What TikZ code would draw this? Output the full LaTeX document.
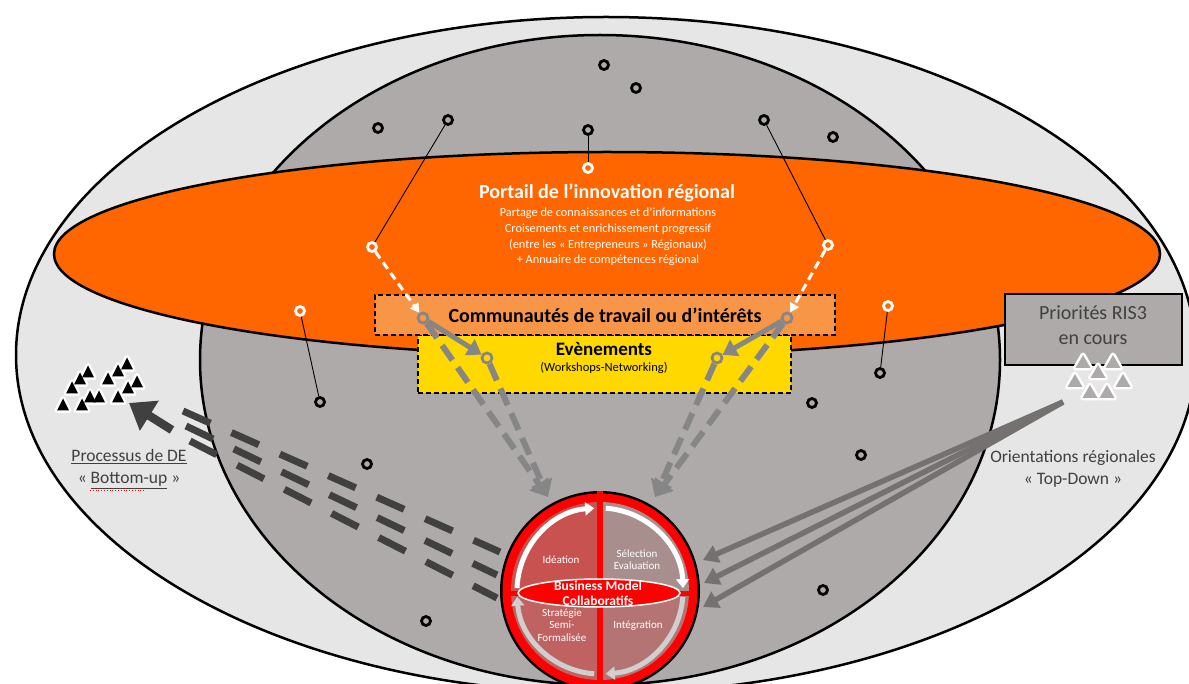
\documentclass[tikz,border=0pt]{standalone}
\usepackage{fontspec}
\setmainfont{Carlito}
\usetikzlibrary{arrows.meta}
\definecolor{outerg}{HTML}{E7E6E6}
\definecolor{innerg}{HTML}{AEAAAA}
\definecolor{orangeP}{HTML}{FF6600}
\definecolor{commu}{HTML}{F79646}
\definecolor{evt}{HTML}{FFD800}
\definecolor{dkg}{HTML}{404040}
\definecolor{arrowg}{HTML}{767171}
\definecolor{dashg}{HTML}{868686}
\definecolor{qtl}{HTML}{C85250}
\definecolor{qtr}{HTML}{A98E8E}
\definecolor{qbr}{HTML}{B47474}
\definecolor{qbl}{HTML}{C06262}
\definecolor{arcg}{HTML}{CFCFCF}
\begin{document}
\begin{tikzpicture}[x=1pt,y=-1pt,
  bring/.style={circle,draw=black,line width=2.8pt,fill=innerg,minimum size=9pt,inner sep=0pt},
  wring/.style={circle,draw=white,line width=2.8pt,fill=orangeP,minimum size=9pt,inner sep=0pt},
  gring/.style={circle,draw=dashg,line width=2.8pt,minimum size=10pt,inner sep=0pt},
  thinl/.style={black,line width=0.9pt},
  whitedash/.style={white,line width=3pt,dash pattern=on 8pt off 5pt,-{Triangle[length=9pt,width=10pt]}},
  graysolid/.style={dashg,line width=5pt,-{Triangle[length=14pt,width=18pt]}},
  graydash/.style={dashg,line width=6pt,dash pattern=on 18pt off 9pt,-{Triangle[length=16pt,width=22pt]}},
  tdarrow/.style={arrowg,line width=5.5pt,-{Triangle[length=15pt,width=18pt]}},
  budash/.style={dkg,line width=7pt,dash pattern=on 30pt off 23pt},
  dbox/.style={draw=black,line width=1.5pt,dash pattern=on 5pt off 3pt,inner sep=0pt},
  lbl/.style={text=dkg,font=\fontsize{17.5}{22}\selectfont,align=center},
  qlbl/.style={text=white,font=\fontsize{11}{12.5}\selectfont,align=center},
  ltri/.style={white,line width=5pt,line join=round},
]
\useasboundingbox (0,0) rectangle (1189,684);
\clip (0,0) rectangle (1189,684);
\fill[white] (0,0) rectangle (1189,684);

% ellipses
\draw[line width=2.5pt,fill=outerg] (606,355) ellipse [x radius=590, y radius=338];
\draw[line width=2.5pt,fill=innerg] (600,360) ellipse [x radius=400, y radius=325];
\draw[line width=2.5pt,fill=orangeP] (607,254) ellipse [x radius=553, y radius=102];

% boxes
\node[dbox,fill=evt,minimum width=373pt,minimum height=58pt] (evtbox) at (604.5,364) {};
\node[dbox,fill=commu,minimum width=460pt,minimum height=40pt,font=\bfseries\fontsize{20}{24}\selectfont] (comm) at (605,315) {Communautés de travail ou d’intérêts};
\node[font=\bfseries\fontsize{19}{22}\selectfont] (evttitle) at (604,349) {Evènements};
\node[font=\fontsize{12.5}{15}\selectfont] (evtsub) at (604,368) {(Workshops-Networking)};

% portal text
\node[text=white,font=\bfseries\fontsize{20}{24}\selectfont] (portal) at (607,193) {Portail de l’innovation régional};
\node[text=white,font=\fontsize{12.3}{15.7}\selectfont,align=center] (portalsub) at (608,237) {Partage de connaissances et d’informations\\Croisements et enrichissement progressif\\(entre les « Entrepreneurs » Régionaux)\\+ Annuaire de compétences régional};

% rings
\node[bring] (b1) at (604,65) {};
\node[bring] (b2) at (636,88) {};
\node[bring] (b3) at (378,128) {};
\node[bring] (b4) at (448,120) {};
\node[bring] (b5) at (588,130) {};
\node[bring] (b6) at (764,120) {};
\node[bring] (b7) at (833,137) {};
\node[bring] (b8) at (320,402) {};
\node[bring] (b9) at (880,373) {};
\node[bring] (b10) at (367,464) {};
\node[bring] (b11) at (812,403) {};
\node[bring] (b12) at (861,455) {};
\node[bring] (b13) at (426,621) {};
\node[bring] (b14) at (823,590) {};
\node[wring] (w1) at (588,168) {};
\node[wring] (w2) at (372,247) {};
\node[wring] (w3) at (828,245) {};
\node[wring] (w4) at (300,311) {};
\node[wring] (w5) at (888,306) {};
\node[gring,fill=commu] (g1) at (423,318) {};
\node[gring,fill=evt] (g2) at (487,358) {};
\node[gring,fill=commu] (g3) at (787,318) {};
\node[gring,fill=evt] (g4) at (717,358) {};

% thin lines
\draw[thinl] (b4) -- (w2);
\draw[thinl] (b5) -- (w1);
\draw[thinl] (b6) -- (w3);
\draw[thinl] (w4) -- (b8);
\draw[thinl] (w5) -- (b9);

% bottom-up dashes
\coordinate (bu1s) at (183,411); \coordinate (bu1e) at (500,552);
\coordinate (bu2s) at (186,426); \coordinate (bu2e) at (497,575);
\coordinate (bu3s) at (190,441); \coordinate (bu3e) at (497,598);
\draw[budash] (bu1s) -- (bu1e);
\draw[budash] (bu2s) -- (bu2e);
\draw[budash] (bu3s) -- (bu3e);
\coordinate (bua) at (172,430); \coordinate (but) at (129,403);
\draw[dkg,line width=8.5pt,-{Triangle[length=24pt,width=34pt]}] (bua) -- (but);

% left triangles
\foreach \x/\y in {63/405,82/405,72/388,80/379,88/372,90/397,99/397,108/379,118/371,127/364,118/397,128/388,137/382}
  \draw[ltri] ({\x-6},{\y+5.5}) -- (\x,{\y-6.5}) -- ({\x+6},{\y+5.5}) -- cycle;
\foreach \x/\y in {63/405,82/405,72/388,80/379,88/372,90/397,99/397,108/379,118/371,127/364,118/397,128/388,137/382}
  \fill[black] ({\x-6},{\y+5.5}) -- (\x,{\y-6.5}) -- ({\x+6},{\y+5.5}) -- cycle;

% central circle
\coordinate (cc) at (600,591);
\fill[black] (cc) circle[radius=100];
\fill[red] (cc) circle[radius=97.5];
\fill[qtl] (cc) -- ++(180:89) arc[start angle=180,end angle=270,radius=89] -- cycle;
\fill[qtr] (cc) -- ++(270:89) arc[start angle=270,end angle=360,radius=89] -- cycle;
\fill[qbr] (cc) -- ++(0:89) arc[start angle=0,end angle=90,radius=89] -- cycle;
\fill[qbl] (cc) -- ++(90:89) arc[start angle=90,end angle=180,radius=89] -- cycle;
\draw[red,line width=6pt] (600,491) -- (600,691);
\draw[red,line width=5pt] (511,593) -- (689,593);
\draw[white,line width=5pt,-{Triangle[length=9pt,width=13pt]}] (cc) ++(182:83) arc[start angle=182,end angle=266,radius=83];
\draw[white,line width=5pt,-{Triangle[length=9pt,width=13pt]}] (cc) ++(274:83) arc[start angle=274,end angle=358,radius=83];
\draw[arcg,line width=5pt,-{Triangle[length=9pt,width=13pt]}] (cc) ++(4:83) arc[start angle=4,end angle=86,radius=83];
\draw[arcg,line width=5pt,-{Triangle[length=9pt,width=13pt]}] (cc) ++(94:83) arc[start angle=94,end angle=176,radius=83];
\path[draw=white,line width=1.5pt,fill=red] (599,593) ellipse [x radius=81, y radius=14];
\node[text=white,font=\bfseries\fontsize{13.5}{15}\selectfont,align=center] (bmt) at (598,593) {Business Model\\Collaboratifs};
\node[qlbl] (q1) at (561,560) {Idéation};
\node[qlbl] (q2) at (637,559.5) {Sélection\\Evaluation};
\node[qlbl] (q3) at (638,626) {Intégration};
\node[qlbl] (q4) at (562,625) {Stratégie\\Semi-\\Formalisée};

% arrows from the boxes
\coordinate (ca1) at (548,497);
\coordinate (ca2) at (655,497);
\draw[graydash] (g1) -- (ca1);
\draw[graydash] (g2) -- (ca1);
\draw[graydash] (g3) -- (ca2);
\draw[graydash] (g4) -- (ca2);
\draw[graysolid] (g1) -- (g2);
\draw[graysolid] (g3) -- (g4);
\draw[whitedash] (w2) -- (g1);
\draw[whitedash] (w3) -- (g3);

% RIS3 box
\node[draw=black,line width=2pt,fill=innerg,minimum width=177pt,minimum height=71pt,inner sep=0pt] (ris) at (1093.5,329.5) {};
\node[text=dkg,font=\fontsize{20}{25}\selectfont,align=center] (ristxt) at (1093,325) {Priorités RIS3\\en cours};
\foreach \x/\y in {1083/362,1113/362,1098/372,1075/381,1123/381,1090/392,1107/392}
  \draw[ltri] ({\x-7.5},{\y+6}) -- (\x,{\y-7}) -- ({\x+7.5},{\y+6}) -- cycle;
\foreach \x/\y in {1083/362,1113/362,1098/372,1075/381,1123/381,1090/392,1107/392}
  \fill[innerg] ({\x-7.5},{\y+6}) -- (\x,{\y-7}) -- ({\x+7.5},{\y+6}) -- cycle;

% top-down arrows
\coordinate (td) at (1063,402);
\coordinate (t1) at (703,560);
\coordinate (t2) at (704,583);
\coordinate (t3) at (703,607);
\draw[tdarrow] (td) -- (t1);
\draw[tdarrow] (td) -- (t2);
\draw[tdarrow] (td) -- (t3);

% side labels
\node[lbl] (bulbl) at (129,469) {\underline{Processus de DE}\\« \underline{Bottom-up} »};
\draw[red,line width=0.8pt,dotted] (90,490) -- (146,490);
\node[lbl] (tdlbl) at (1073,469) {Orientations régionales\\« Top-Down »};
\end{tikzpicture}
\end{document}
